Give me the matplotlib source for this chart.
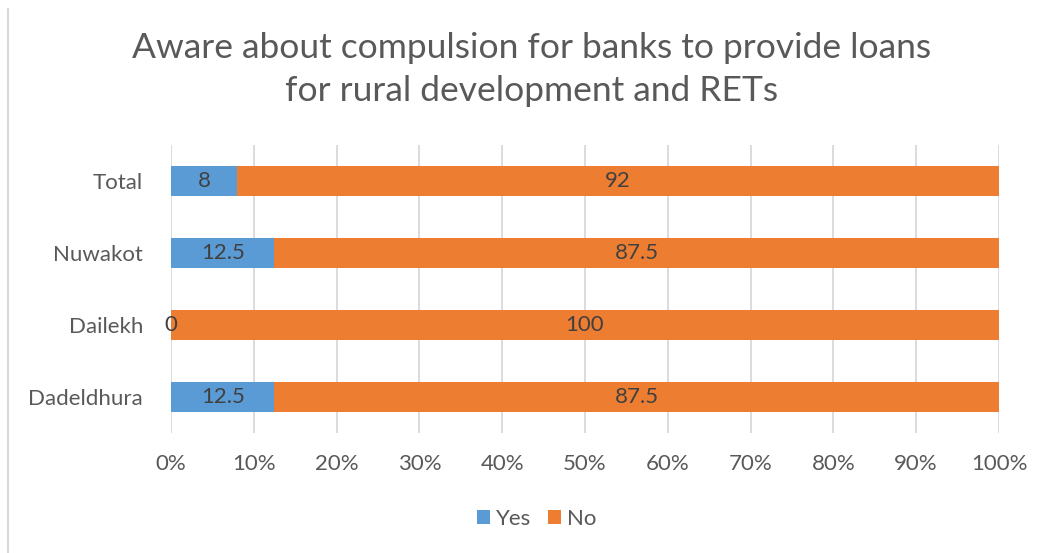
import matplotlib.pyplot as plt
from matplotlib.lines import Line2D
from matplotlib.ticker import PercentFormatter

plt.rcParams['font.family'] = ['Lato', 'DejaVu Sans']

# survey responses per district (percent)
districts = ['Dadeldhura', 'Dailekh', 'Nuwakot', 'Total']
yes = [12.5, 0, 12.5, 8]
no = [87.5, 100, 87.5, 92]

blue = '#5B9BD5'
orange = '#ED7D31'
text_grey = '#595959'

fig = plt.figure(figsize=(10.42, 5.53), dpi=100)
ax = fig.add_axes([0.1641, 0.217, 0.7946, 0.5208])

pos = range(len(districts))
b1 = ax.barh(pos, yes, height=0.41, color=blue, label='Yes', zorder=3)
b2 = ax.barh(pos, no, left=yes, height=0.41, color=orange, label='No', zorder=3)

# value labels centred in each segment
for bars, vals in ((b1, yes), (b2, no)):
    for bar, v in zip(bars, vals):
        cx = bar.get_x() + bar.get_width() / 2
        cy = bar.get_y() + bar.get_height() / 2
        ax.text(cx, cy, f'{v:g}', ha='center', va='center', fontsize=16,
                color='#404040', zorder=4)

ax.set_xlim(0, 100)
ax.set_ylim(-0.5, len(districts) - 0.5)
ax.set_xticks(range(0, 101, 10))
ax.xaxis.set_major_formatter(PercentFormatter(decimals=0))
ax.set_yticks(list(pos))
ax.set_yticklabels(districts)
ax.tick_params(axis='both', length=0, labelsize=16, colors=text_grey)
ax.tick_params(axis='x', pad=15)
ax.tick_params(axis='y', pad=20)
ax.grid(axis='x', color='#D9D9D9', linewidth=1.3, zorder=0)
for s in ax.spines.values():
    s.set_visible(False)

fig.suptitle('Aware about compulsion for banks to provide loans\nfor rural development and RETs',
             x=0.51, y=0.942, fontsize=25.5, color=text_grey, linespacing=1.42)

fig.legend(handles=[b1, b2], loc='center', bbox_to_anchor=(0.515, 1 - 519 / 553),
           ncol=2, frameon=False, fontsize=16, labelcolor=text_grey,
           handlelength=0.6, handleheight=0.6, handletextpad=0.25,
           columnspacing=0.75)

# chart border on the left edge
fig.add_artist(Line2D([8 / 1042, 8 / 1042], [0, 1 - 9 / 553],
                      transform=fig.transFigure, color='#D9D9D9', linewidth=1.5))

plt.savefig('out.png', dpi=100)
